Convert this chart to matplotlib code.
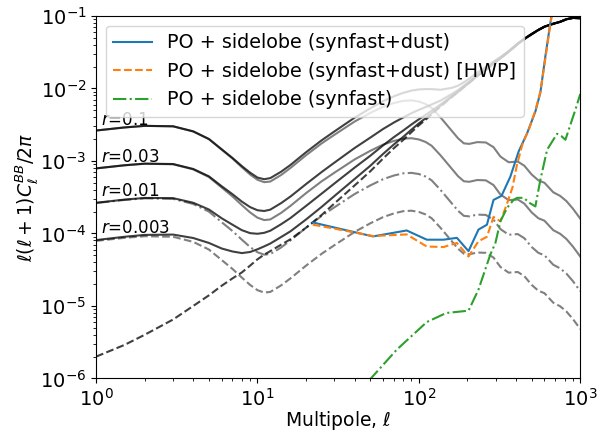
import matplotlib
matplotlib.use("Agg")
import matplotlib.pyplot as plt

# multipoles for the theory curves
ell_th = [1, 1.5, 2, 3, 4, 5, 6, 7, 8, 9,
          10, 11, 12, 14, 16, 20, 25, 30, 40, 50,
          60, 70, 80, 90, 100, 110, 120, 136, 160, 175,
          190, 205, 230, 260, 290, 320, 360, 410, 450, 500,
          550, 600, 680, 750, 820, 900, 1000]

lensing = [2.0e-6, 2.9e-6, 4.0e-6, 6.5e-6, 1.0e-5, 1.4e-5, 1.9e-5, 2.4e-5, 2.9e-5, 3.6e-5,
           4.4e-5, 5.1e-5, 5.7e-5, 7.0e-5, 8.3e-5, 1.2e-4, 1.8e-4, 2.6e-4, 4.6e-4, 7.2e-4,
           1.08e-3, 1.5e-3, 1.95e-3, 2.5e-3, 3.1e-3, 3.7e-3, 4.4e-3, 5.6e-3, 7.6e-3, 8.9e-3,
           1.04e-2, 1.19e-2, 1.48e-2, 1.8e-2, 2.2e-2, 2.6e-2, 3.2e-2, 4.1e-2, 4.8e-2, 5.6e-2,
           6.4e-2, 7.1e-2, 7.8e-2, 8.3e-2, 9.0e-2, 9.4e-2, 9.3e-2]

# tensor only
tens_01 = [2.63e-3, 2.9e-3, 3.05e-3, 3.0e-3, 2.55e-3, 2.0e-3, 1.43e-3, 1.08e-3, 8.2e-4, 6.5e-4,
           5.5e-4, 5.1e-4, 5.2e-4, 6.4e-4, 8.0e-4, 1.2e-3, 1.75e-3, 2.3e-3, 3.5e-3, 4.6e-3,
           5.6e-3, 6.3e-3, 6.75e-3, 6.85e-3, 6.6e-3, 6.1e-3, 5.4e-3, 4.0e-3, 2.6e-3, 2.05e-3,
           1.75e-3, 1.72e-3, 1.82e-3, 1.8e-3, 1.55e-3, 1.15e-3, 9.6e-4, 9.8e-4, 8.6e-4, 6.5e-4,
           5.4e-4, 5.0e-4, 3.7e-4, 3.3e-4, 2.8e-4, 2.2e-4, 1.6e-4]
tens_003 = [7.9e-4, 8.7e-4, 9.15e-4, 9.0e-4, 7.65e-4, 6.0e-4, 4.3e-4, 3.24e-4, 2.46e-4, 1.95e-4,
            1.65e-4, 1.53e-4, 1.56e-4, 1.92e-4, 2.4e-4, 3.6e-4, 5.25e-4, 6.9e-4, 1.05e-3, 1.38e-3,
            1.68e-3, 1.89e-3, 2.03e-3, 2.06e-3, 1.98e-3, 1.83e-3, 1.62e-3, 1.2e-3, 7.8e-4, 6.15e-4,
            5.25e-4, 5.16e-4, 5.46e-4, 5.4e-4, 4.65e-4, 3.45e-4, 2.88e-4, 2.94e-4, 2.58e-4, 1.95e-4,
            1.62e-4, 1.5e-4, 1.11e-4, 9.9e-5, 8.4e-5, 6.6e-5, 4.8e-5]
tens_001 = [2.63e-4, 2.9e-4, 3.05e-4, 3.0e-4, 2.55e-4, 2.0e-4, 1.43e-4, 1.08e-4, 8.2e-5, 6.5e-5,
            5.5e-5, 5.1e-5, 5.2e-5, 6.4e-5, 8.0e-5, 1.2e-4, 1.75e-4, 2.3e-4, 3.5e-4, 4.6e-4,
            5.6e-4, 6.3e-4, 6.75e-4, 6.85e-4, 6.6e-4, 6.1e-4, 5.4e-4, 4.0e-4, 2.6e-4, 2.05e-4,
            1.75e-4, 1.72e-4, 1.82e-4, 1.8e-4, 1.55e-4, 1.15e-4, 9.6e-5, 9.8e-5, 8.6e-5, 6.5e-5,
            5.4e-5, 5.0e-5, 3.7e-5, 3.3e-5, 2.8e-5, 2.2e-5, 1.6e-5]
tens_0003 = [7.9e-5, 8.7e-5, 9.15e-5, 9.0e-5, 7.65e-5, 6.0e-5, 4.3e-5, 3.24e-5, 2.46e-5, 1.95e-5,
             1.65e-5, 1.53e-5, 1.56e-5, 1.92e-5, 2.4e-5, 3.6e-5, 5.25e-5, 6.9e-5, 1.05e-4, 1.38e-4,
             1.68e-4, 1.89e-4, 2.03e-4, 2.06e-4, 1.98e-4, 1.83e-4, 1.62e-4, 1.2e-4, 7.8e-5, 6.15e-5,
             5.25e-5, 5.16e-5, 5.46e-5, 5.4e-5, 4.65e-5, 3.45e-5, 2.88e-5, 2.94e-5, 2.58e-5, 1.95e-5,
             1.62e-5, 1.5e-5, 1.11e-5, 9.9e-6, 8.4e-6, 6.6e-6, 4.8e-6]

# tensor + lensing
tot_01 = [2.63e-3, 2.9e-3, 3.05e-3, 3.01e-3, 2.56e-3, 2.01e-3, 1.45e-3, 1.10e-3, 8.5e-4, 6.9e-4,
          5.9e-4, 5.6e-4, 5.8e-4, 7.1e-4, 8.8e-4, 1.32e-3, 1.93e-3, 2.56e-3, 3.96e-3, 5.32e-3,
          6.68e-3, 7.8e-3, 8.7e-3, 9.35e-3, 9.7e-3, 9.8e-3, 9.8e-3, 9.6e-3, 1.02e-2, 1.095e-2,
          1.215e-2, 1.362e-2, 1.662e-2, 1.98e-2, 2.355e-2, 2.715e-2, 3.296e-2, 4.2e-2, 4.89e-2, 5.67e-2,
          6.45e-2, 7.15e-2, 7.84e-2, 8.33e-2, 9.03e-2, 9.42e-2, 9.32e-2]
tot_003 = [7.9e-4, 8.73e-4, 9.19e-4, 9.07e-4, 7.75e-4, 6.14e-4, 4.48e-4, 3.48e-4, 2.75e-4, 2.31e-4,
           2.09e-4, 2.04e-4, 2.13e-4, 2.62e-4, 3.23e-4, 4.8e-4, 7.05e-4, 9.5e-4, 1.51e-3, 2.1e-3,
           2.76e-3, 3.39e-3, 3.98e-3, 4.56e-3, 5.08e-3, 5.53e-3, 6.02e-3, 6.8e-3, 8.38e-3, 9.52e-3,
           1.093e-2, 1.242e-2, 1.535e-2, 1.854e-2, 2.247e-2, 2.635e-2, 3.23e-2, 4.13e-2, 4.83e-2, 5.62e-2,
           6.42e-2, 7.12e-2, 7.81e-2, 8.31e-2, 9.01e-2, 9.41e-2, 9.30e-2]
tot_001 = [2.65e-4, 2.93e-4, 3.09e-4, 3.07e-4, 2.65e-4, 2.14e-4, 1.62e-4, 1.32e-4, 1.11e-4, 1.01e-4,
           9.9e-5, 1.02e-4, 1.09e-4, 1.34e-4, 1.63e-4, 2.4e-4, 3.55e-4, 4.9e-4, 8.1e-4, 1.18e-3,
           1.64e-3, 2.13e-3, 2.63e-3, 3.19e-3, 3.76e-3, 4.31e-3, 4.94e-3, 6.0e-3, 7.86e-3, 9.1e-3,
           1.058e-2, 1.207e-2, 1.498e-2, 1.818e-2, 2.216e-2, 2.61e-2, 3.21e-2, 4.11e-2, 4.81e-2, 5.61e-2,
           6.41e-2, 7.11e-2, 7.8e-2, 8.3e-2, 9.0e-2, 9.4e-2, 9.3e-2]
tot_0003 = [8.1e-5, 9.0e-5, 9.55e-5, 9.65e-5, 8.65e-5, 7.4e-5, 6.2e-5, 5.64e-5, 5.36e-5, 5.55e-5,
            6.05e-5, 6.63e-5, 7.26e-5, 8.92e-5, 1.07e-4, 1.56e-4, 2.33e-4, 3.29e-4, 5.65e-4, 8.58e-4,
            1.25e-3, 1.69e-3, 2.15e-3, 2.71e-3, 3.3e-3, 3.88e-3, 4.56e-3, 5.72e-3, 7.68e-3, 8.96e-3,
            1.045e-2, 1.195e-2, 1.485e-2, 1.805e-2, 2.205e-2, 2.6e-2, 3.2e-2, 4.1e-2, 4.8e-2, 5.6e-2,
            6.4e-2, 7.1e-2, 7.8e-2, 8.3e-2, 9.0e-2, 9.4e-2, 9.3e-2]

r_labels = ["0.1", "0.03", "0.01", "0.003"]
r_label_y = [3.15e-3, 9.75e-4, 3.27e-4, 1.03e-4]

# systematics
ell_blue = [22, 28, 52, 84, 112, 142, 172, 203, 234, 264, 290, 325, 369, 415, 468, 527, 566, 608, 653, 700]
blue = [1.42e-4, 1.25e-4, 9.1e-5, 1.1e-4, 8.2e-5, 8.2e-5, 8.7e-5, 5.7e-5, 1.13e-4, 1.32e-4,
        2.9e-4, 3.3e-4, 6.1e-4, 1.35e-3, 2.4e-3, 4.8e-3, 8.8e-3, 2.8e-2, 8.1e-2, 2.0e-1]

ell_orange = [22, 28, 52, 84, 112, 142, 172, 203, 234, 264, 290, 320, 350, 380, 405, 440, 480,
              527, 566, 608, 653, 700]
orange = [1.32e-4, 1.2e-4, 9.2e-5, 9.7e-5, 6.6e-5, 6.5e-5, 7.4e-5, 4.8e-5, 7.8e-5, 9.0e-5,
          1.69e-4, 1.47e-4, 2.5e-4, 4.3e-4, 8.8e-4, 1.76e-3, 2.7e-3, 5.0e-3, 9.0e-3, 2.6e-2,
          7.8e-2, 2.0e-1]

ell_green = [49, 52, 73, 112, 148, 203, 234, 258, 277, 298, 320, 352, 386, 406, 446, 484, 527,
             566, 623, 718, 764, 809, 868, 933, 1000]
green = [9.3e-7, 1.08e-6, 2.5e-6, 6.0e-6, 8.0e-6, 8.6e-6, 1.68e-5, 3.2e-5, 5.1e-5, 7.4e-5,
         1.47e-4, 2.26e-4, 2.9e-4, 3.1e-4, 3.1e-4, 2.65e-4, 2.36e-4, 5.5e-4, 1.43e-3, 2.37e-3,
         2.2e-3, 1.96e-3, 3.15e-3, 5.1e-3, 8.4e-3]


fig = plt.figure(figsize=(6.16, 4.32), dpi=100)
ax = fig.add_axes([0.156, 0.124, 0.786, 0.839])

lw = 1.5
ax.plot(ell_th, tens_01, color='gray', ls='-', lw=lw)
ax.plot(ell_th, tens_003, color='gray', ls='-', lw=lw)
ax.plot(ell_th, tens_001, color='gray', ls='-.', lw=lw)
ax.plot(ell_th, tens_0003, color='gray', ls='--', lw=lw)
for tot in [tot_01, tot_003, tot_001, tot_0003]:
    ax.plot(ell_th, tot, color='k', alpha=0.75, ls='-', lw=lw)
ax.plot(ell_th, lensing, color='k', alpha=0.75, ls='--', lw=lw)

for lab, yv in zip(r_labels, r_label_y):
    ax.text(1.08, yv, '$r$=' + lab, fontsize=12, va='baseline')

ax.plot(ell_blue, blue, color='C0', lw=lw, label='PO + sidelobe (synfast+dust)')
ax.plot(ell_orange, orange, color='C1', ls='--', lw=lw, label='PO + sidelobe (synfast+dust) [HWP]')
ax.plot(ell_green, green, color='C2', ls='-.', lw=lw, label='PO + sidelobe (synfast)')

ax.set_xscale('log')
ax.set_yscale('log')
ax.set_xlim(1, 1000)
ax.set_ylim(1e-6, 1e-1)
ax.set_xlabel(r'Multipole, $\ell$', fontsize=13.5)
ax.xaxis.set_label_coords(0.5, -0.085)
ax.set_ylabel(r'$\ell(\ell+1)C_\ell^{BB}/2\pi$', fontsize=13.5)
ax.yaxis.set_label_coords(-0.116, 0.5)
ax.tick_params(labelsize=14)
ax.legend(loc='upper left', fontsize=13.8)

fig.savefig('out.png', dpi=100)
